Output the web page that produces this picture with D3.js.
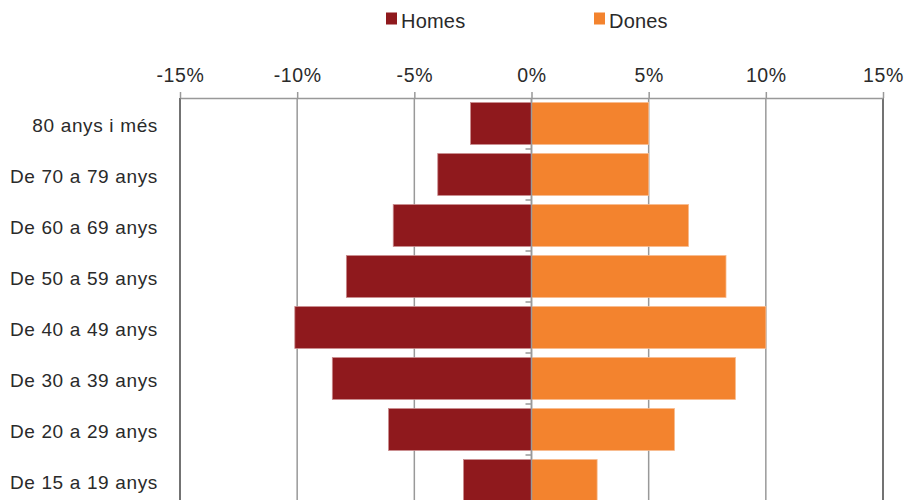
<!DOCTYPE html>
<html><head><meta charset="utf-8">
<script src="https://cdn.jsdelivr.net/npm/d3@7"></script>
<style>html,body{margin:0;padding:0;background:#fff;overflow:hidden}svg{display:block}</style>
</head><body><svg id="c" width="909" height="500"></svg>
<script>
const categories = ["80 anys i més","De 70 a 79 anys","De 60 a 69 anys","De 50 a 59 anys","De 40 a 49 anys","De 30 a 39 anys","De 20 a 29 anys","De 15 a 19 anys"];
const homes = [2.6, 4.0, 5.9, 7.9, 10.1, 8.5, 6.1, 2.9];
const dones = [5.0, 5.0, 6.7, 8.3, 10.0, 8.7, 6.1, 2.8];
const tickValues = [-15,-10,-5,0,5,10,15];
const seriesNames = ["Homes","Dones"];
const colors = ["#8F191D","#F3832E"];

const svg = d3.select("#c");
const font = "'Liberation Sans', Arial, sans-serif";
const x = d3.scaleLinear().domain([-15,15]).range([180,883]);
const y = d3.scaleBand().domain(categories).range([98,506]).paddingInner(0.18).paddingOuter(0.09);
const yb = d3.scaleBand().domain(categories).range([98,506]);

// gridlines
svg.append("g").selectAll("line").data(tickValues).join("line")
  .attr("x1",d=>x(d)).attr("x2",d=>x(d)).attr("y1",98).attr("y2",506)
  .attr("stroke",d=>(d===-15||d===15)?"#444":"#999")
  .attr("stroke-width",1.5);

// top axis
const xAxis = d3.axisTop(x).tickValues(tickValues).tickFormat(d=>d+"%").tickSize(6).tickPadding(10).tickSizeOuter(0);
const gx = svg.append("g").attr("transform","translate(0,98)").call(xAxis);
gx.select(".domain").attr("stroke","#999").attr("stroke-width",1.5);
gx.selectAll(".tick line").attr("stroke","#999").attr("stroke-width",1.5);
gx.selectAll(".tick text").attr("fill","#2a2a2a").attr("font-family",font).attr("font-size",19.5)
  .attr("letter-spacing","0.6px");

// bars
const rows = categories.map((c,i)=>({c, h:homes[i], d:dones[i]}));
svg.append("g").selectAll("rect").data(rows).join("rect")
  .attr("x",d=>x(-d.h)).attr("width",d=>x(0)-x(-d.h))
  .attr("y",d=>y(d.c)).attr("height",y.bandwidth())
  .attr("fill",colors[0]).attr("stroke","#c98a8c").attr("stroke-width",0.8);
svg.append("g").selectAll("rect").data(rows).join("rect")
  .attr("x",x(0)).attr("width",d=>x(d.d)-x(0))
  .attr("y",d=>y(d.c)).attr("height",y.bandwidth())
  .attr("fill",colors[1]).attr("stroke","#f8b98a").attr("stroke-width",0.8);

// center axis
svg.append("line").attr("x1",x(0)).attr("x2",x(0)).attr("y1",98).attr("y2",506)
  .attr("stroke","#999").attr("stroke-width",1.5);
svg.append("g").selectAll("line").data(categories.slice(1)).join("line")
  .attr("x1",x(0)-6).attr("x2",x(0)).attr("y1",d=>yb(d)).attr("y2",d=>yb(d))
  .attr("stroke","#999").attr("stroke-width",1.5);

// category labels
svg.append("g").selectAll("text").data(categories).join("text")
  .attr("x",158).attr("y",d=>yb(d)+yb.bandwidth()/2).attr("dy","0.45em")
  .attr("text-anchor","end").attr("fill","#2a2a2a").attr("font-family",font).attr("font-size",19)
  .attr("letter-spacing","0.65px")
  .text(d=>d);

// legend
const lx = [386, 594];
const lg = svg.append("g").selectAll("g").data(seriesNames).join("g")
  .attr("transform",(d,i)=>`translate(${lx[i]},0)`);
lg.append("rect").attr("x",0).attr("y",12.5).attr("width",11).attr("height",12).attr("fill",(d,i)=>colors[i]);
lg.append("text").attr("x",15).attr("y",27.5).attr("fill","#2a2a2a").attr("font-family",font).attr("font-size",20)
  .attr("letter-spacing","0.2px").text(d=>d);
</script></body></html>
